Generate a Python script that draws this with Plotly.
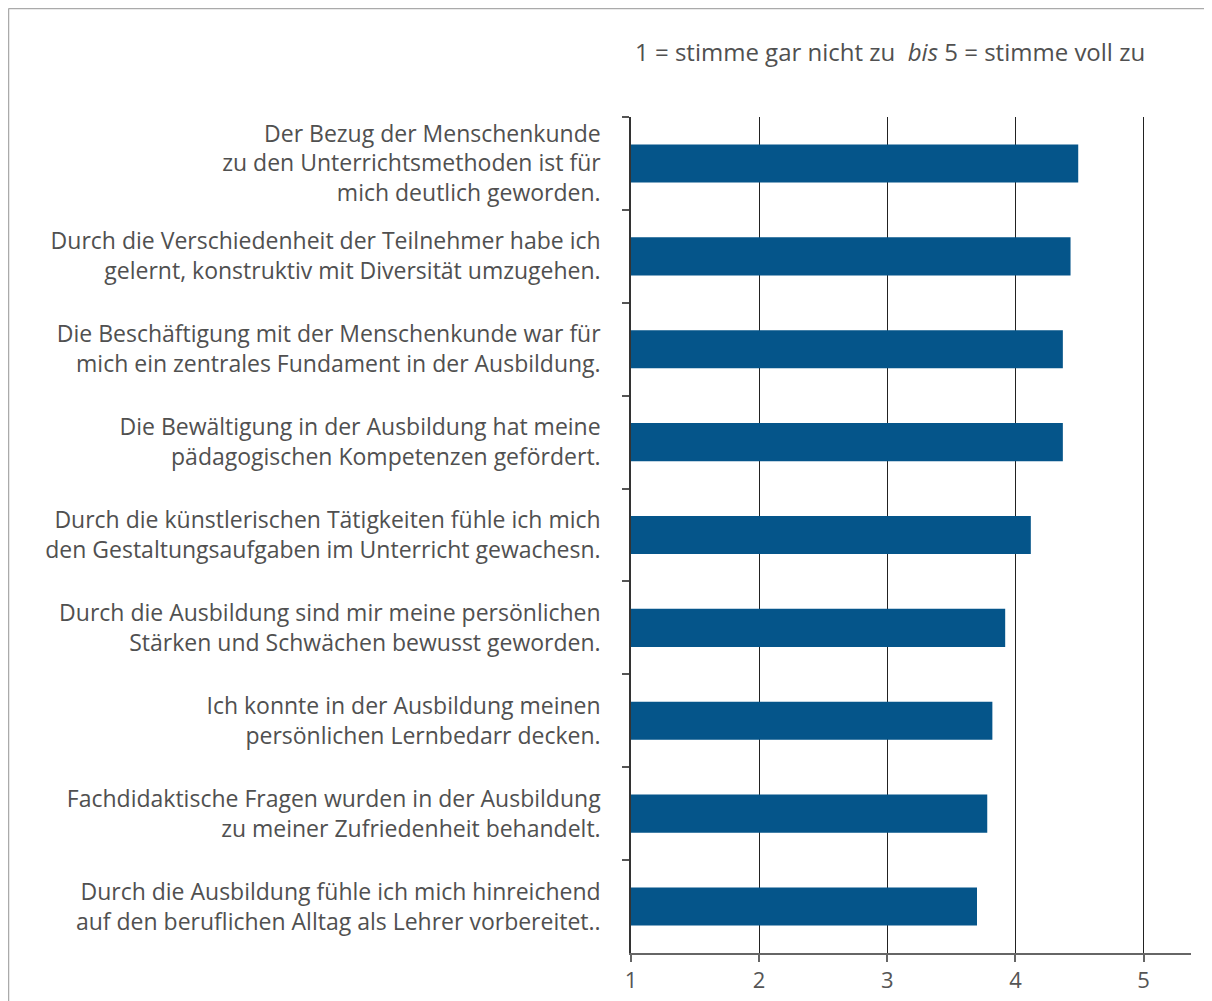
import plotly.graph_objects as go

# Aussagen (von oben nach unten) und Mittelwerte
aussagen = [
    "Der Bezug der Menschenkunde<br>zu den Unterrichtsmethoden ist für<br>mich deutlich geworden.",
    "Durch die Verschiedenheit der Teilnehmer habe ich<br>gelernt, konstruktiv mit Diversität umzugehen.",
    "Die Beschäftigung mit der Menschenkunde war für<br>mich ein zentrales Fundament in der Ausbildung.",
    "Die Bewältigung in der Ausbildung hat meine<br>pädagogischen Kompetenzen gefördert.",
    "Durch die künstlerischen Tätigkeiten fühle ich mich<br>den Gestaltungsaufgaben im Unterricht gewachesn.",
    "Durch die Ausbildung sind mir meine persönlichen<br>Stärken und Schwächen bewusst geworden.",
    "Ich konnte in der Ausbildung meinen<br>persönlichen Lernbedarr decken.",
    "Fachdidaktische Fragen wurden in der Ausbildung<br>zu meiner Zufriedenheit behandelt.",
    "Durch die Ausbildung fühle ich mich hinreichend<br>auf den beruflichen Alltag als Lehrer vorbereitet..",
]
mittelwerte = [4.49, 4.43, 4.37, 4.37, 4.12, 3.92, 3.82, 3.78, 3.70]
skala = [1, 2, 3, 4, 5]

FONT = "Open Sans"
TEXT = "#505050"

fig = go.Figure(go.Bar(
    x=[w - 1 for w in mittelwerte],
    base=1,
    y=aussagen,
    orientation="h",
    width=0.41,
    marker=dict(color="#05558a", line=dict(width=0)),
    hoverinfo="skip",
))

fig.update_layout(
    width=1212, height=1001,
    margin=dict(l=623, r=29, t=109, b=56),
    paper_bgcolor="white", plot_bgcolor="white",
    font=dict(family=FONT, color=TEXT, size=23),
    showlegend=False,
)

fig.update_xaxes(
    range=[1, 5.37],
    tickvals=skala,
    ticktext=[str(s) for s in skala],
    showgrid=True, gridcolor="#222", gridwidth=1.3,
    showline=True, linecolor="#666", linewidth=2,
    ticks="outside", ticklen=7, tickcolor="#666", tickwidth=1.5,
    tickfont=dict(size=22, color="#555"),
    zeroline=False,
)
fig.update_yaxes(
    type="category",
    autorange="reversed",
    showline=True, linecolor="#333", linewidth=1.5,
    ticks="outside", tickson="boundaries", ticklen=7, tickcolor="#555", tickwidth=1.5,
    ticklabelstandoff=24,
    tickfont=dict(size=23, color=TEXT),
    showgrid=False,
)

# Skalenhinweis
fig.add_annotation(
    text="1 = stimme gar nicht zu  <i>bis</i> 5 = stimme voll zu",
    xref="paper", yref="paper",
    x=0.0036, y=1.0778, xanchor="left", yanchor="middle",
    showarrow=False, font=dict(size=24, color=TEXT),
)

# Rahmen oben und links
fig.add_shape(type="line", xref="paper", yref="paper",
              x0=-1.1116, x1=1.052, y0=1.1298, y1=1.1298,
              line=dict(color="#aaa", width=1.5))
fig.add_shape(type="line", xref="paper", yref="paper",
              x0=-1.1116, x1=-1.1116, y0=1.1298, y1=-0.067,
              line=dict(color="#aaa", width=1.5))

fig.write_html("out.html")
